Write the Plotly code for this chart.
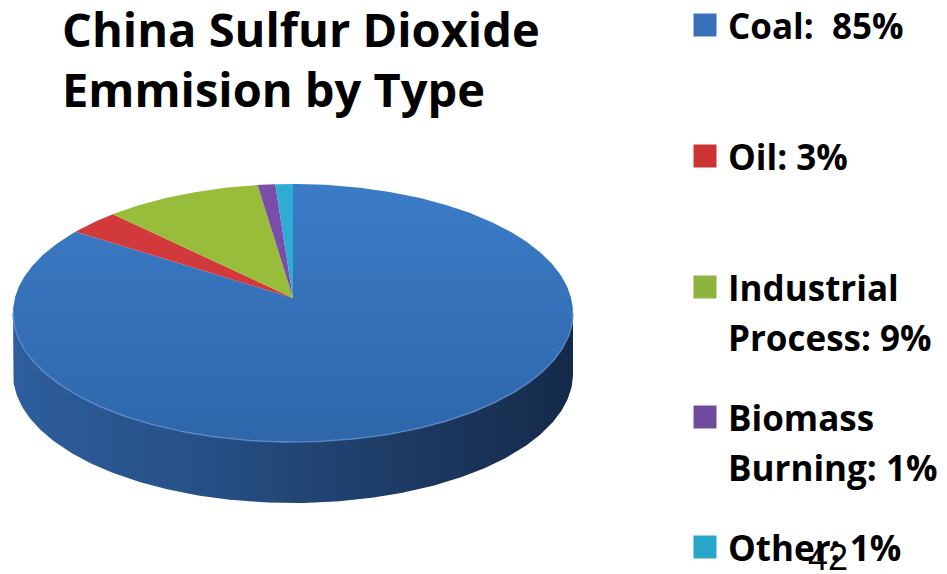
import numpy as np
import plotly.graph_objects as go

# Sulfur dioxide emission shares by source (percent)
sources = ["Coal", "Oil", "Industrial Process", "Biomass Burning", "Other"]
shares = [85, 3, 9, 1, 1]
legend_templates = [
    ["Coal:  {v}%"],
    ["Oil: {v}%"],
    ["Industrial", "Process: {v}%"],
    ["Biomass", "Burning: {v}%"],
    ["Other: {v}%"],
]
slice_colors = ["#3a77c1", "#d2393a", "#98bd3a", "#7a4ea8", "#2eacd2"]
key_colors = ["#3a70b9", "#cc3333", "#8db43d", "#6f4b9e", "#2aa5ca"]
title_lines = ["China Sulfur Dioxide", "Emmision by Type"]
page_number = "42"

W, H = 947, 574

# Projected tilted disc (page pixels)
CX, CY = 293, 313
RX, RY = 280, 129
APEX_Y = 298
DEPTH = 61

total = float(sum(shares))
bounds = np.concatenate([[0.0], np.cumsum(shares)]) / total * 2 * np.pi


def rim(theta):
    theta = np.asarray(theta)
    return CX + RX * np.sin(theta), CY - RY * np.cos(theta)


fig = go.Figure()

# Side wall: only the front half of the disc is visible
for i, (t0, t1) in enumerate(zip(bounds[:-1], bounds[1:])):
    lo, hi = max(t0, np.pi / 2), min(t1, 3 * np.pi / 2)
    if hi <= lo:
        continue
    t = np.linspace(lo, hi, 200)
    xt, yt = rim(t)
    xs = np.concatenate([xt, xt[::-1], xt[:1]])
    ys = np.concatenate([yt, (yt + DEPTH)[::-1], yt[:1]])
    fig.add_trace(go.Scatter(
        x=xs, y=ys, mode="lines", fill="toself",
        line=dict(width=0, color="rgba(0,0,0,0)"),
        fillgradient=dict(
            type="horizontal", start=CX - RX, stop=CX + RX,
            colorscale=[[0, "#2e5e9d"], [0.35, "#264f85"],
                        [0.7, "#1d3a63"], [1, "#152a4a"]],
        ),
        hoverinfo="skip", showlegend=False,
    ))

# Top face slices, drawn clockwise from twelve o'clock
for i, (t0, t1) in enumerate(zip(bounds[:-1], bounds[1:])):
    n = max(int((t1 - t0) / (2 * np.pi) * 600), 6)
    t = np.linspace(t0, t1, n)
    xt, yt = rim(t)
    xs = np.concatenate([[CX], xt, [CX]])
    ys = np.concatenate([[APEX_Y], yt, [APEX_Y]])
    kw = {}
    if i == 0:
        kw["fillgradient"] = dict(
            type="vertical", start=CY - RY, stop=CY + RY,
            colorscale=[[0, "#3b7cc7"], [1, "#2f66aa"]],
        )
    else:
        kw["fillcolor"] = slice_colors[i]
    fig.add_trace(go.Scatter(
        x=xs, y=ys, mode="lines", fill="toself",
        line=dict(width=0, color="rgba(0,0,0,0)"),
        name=sources[i], hoverinfo="name", showlegend=False, **kw,
    ))

# Soft highlight on the front rim of the top face
tr = np.linspace(np.pi / 2, 3 * np.pi / 2, 200)
xr, yr = rim(tr)
fig.add_trace(go.Scatter(
    x=xr, y=yr, mode="lines", line=dict(color="rgba(90,140,205,0.8)", width=1.5),
    hoverinfo="skip", showlegend=False,
))

# Legend keys and labels
key_y = [25, 156, 287, 417, 547]
line_gap = 50
annotations = []
for i, tpl in enumerate(legend_templates):
    fig.add_trace(go.Scatter(
        x=[705], y=[key_y[i]], mode="markers",
        marker=dict(symbol="square", size=23, color=key_colors[i],
                    line=dict(width=0)),
        hoverinfo="skip", showlegend=False,
    ))
    for j, line in enumerate(tpl):
        annotations.append(dict(
            x=726, y=key_y[i] + j * line_gap, xref="x", yref="y",
            text=line.format(v=shares[i]), showarrow=False,
            xanchor="left", yanchor="middle",
            font=dict(family="Open Sans", size=35, weight="bold", color="#000000"),
        ))

# Title
title_y = [29, 89]
for j, line in enumerate(title_lines):
    annotations.append(dict(
        x=60, y=title_y[j], xref="x", yref="y", text=line, showarrow=False,
        xanchor="left", yanchor="middle",
        font=dict(family="Open Sans", size=47, weight="bold", color="#000000"),
    ))

# Page number
annotations.append(dict(
    x=828, y=557, xref="x", yref="y", text=page_number, showarrow=False,
    xanchor="center", yanchor="middle",
    font=dict(family="Liberation Sans", size=36, color="#000000"),
))

fig.update_layout(
    width=W, height=H,
    margin=dict(l=0, r=0, t=0, b=0),
    paper_bgcolor="white", plot_bgcolor="white",
    xaxis=dict(range=[0, W], visible=False, fixedrange=True),
    yaxis=dict(range=[H, 0], visible=False, fixedrange=True),
    annotations=annotations,
    showlegend=False,
)

fig.write_html("out.html")
